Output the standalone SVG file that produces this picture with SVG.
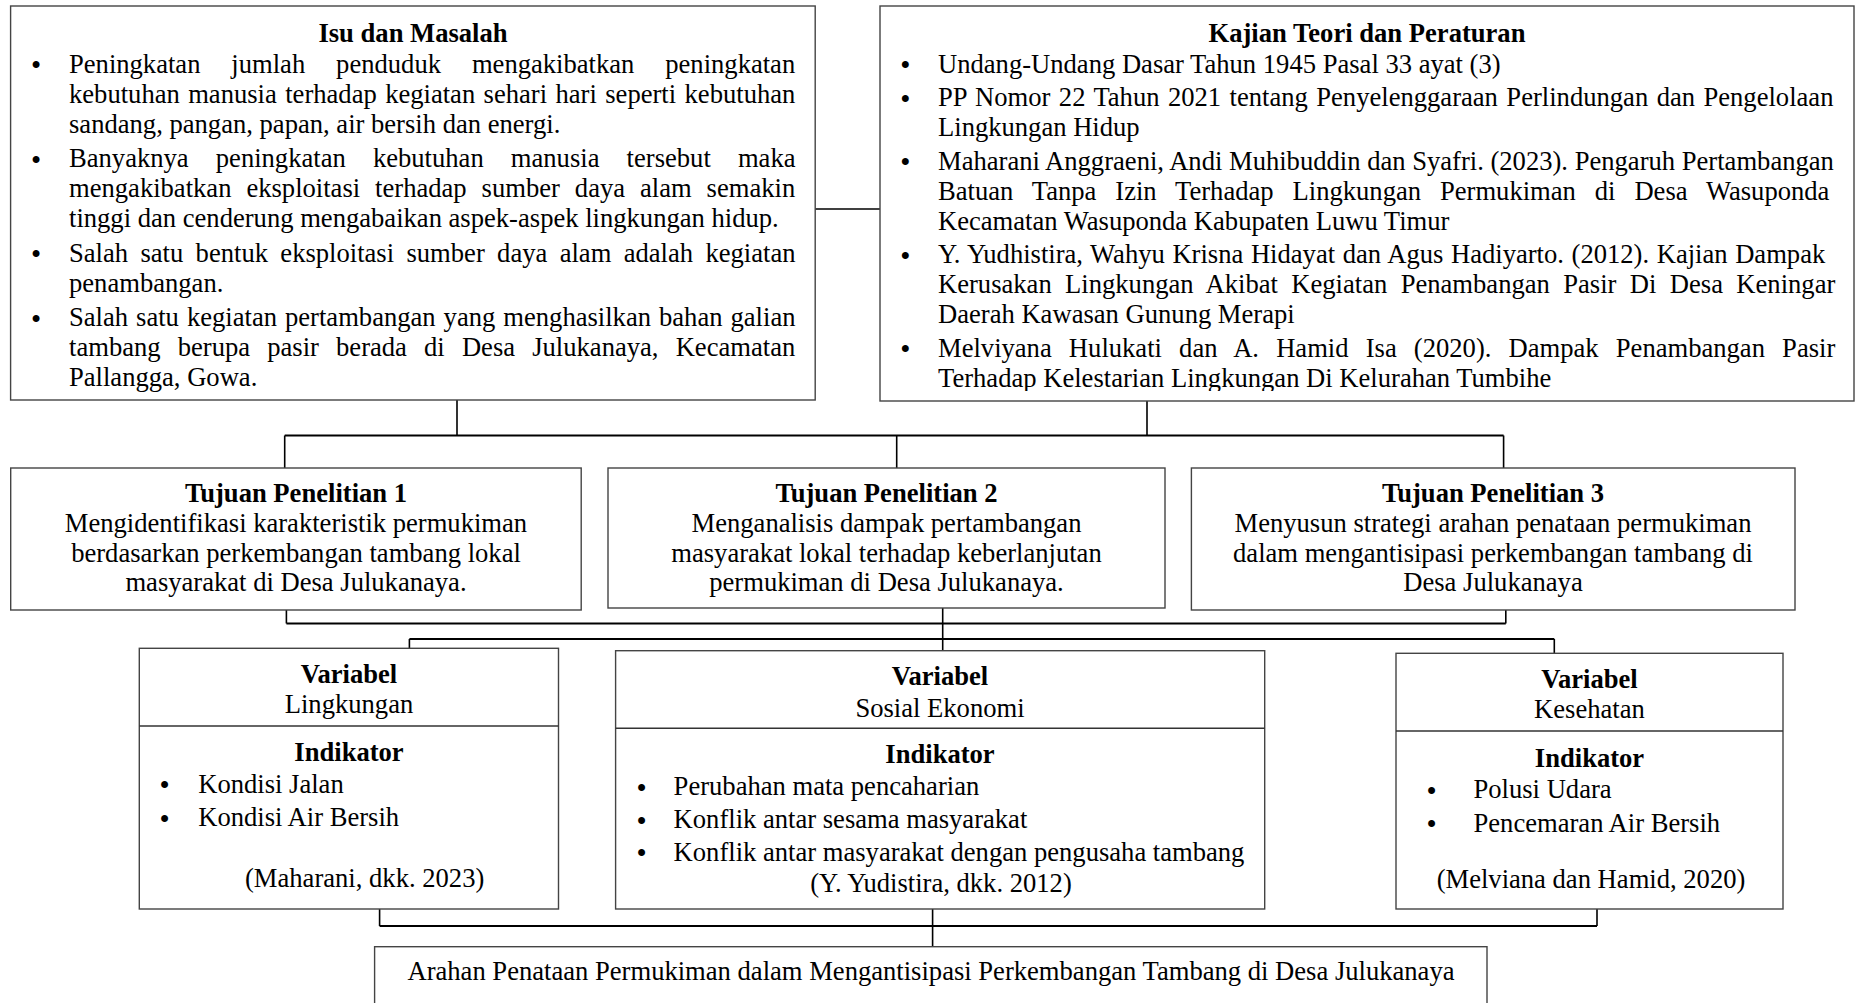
<svg xmlns="http://www.w3.org/2000/svg" width="1856" height="1003" viewBox="0 0 1856 1003">
<style>
text{font-family:"Liberation Serif","Times New Roman",serif;font-size:26.6px;fill:#000}
.b{font-weight:bold}
.m{text-anchor:middle}
.u{font-size:29px}
.box{fill:#fff;stroke:#444;stroke-width:1.4}
.dv{stroke:#333;stroke-width:1.4}
.v{fill:none;stroke:#000;stroke-width:1.6}
.h{fill:none;stroke:#000;stroke-width:2.2}
</style>
<defs>
<clipPath id="kclip"><rect x="880" y="6" width="974" height="385"/></clipPath>
</defs>
<rect width="1856" height="1003" fill="#fff"/>

<g id="connectors">
<path class="v" d="M815 209H880"/>
<path class="v" d="M457 400V435.5M1147 401V435.5"/>
<path class="h" d="M284.7 435.5H1503.6"/>
<path class="v" d="M284.7 435.5V468M896.7 435.5V468M1503.6 435.5V468"/>
<path class="v" d="M286.4 610V623.5M1505.8 610V623.5"/>
<path class="h" d="M286.4 623.5H1505.8"/>
<path class="v" d="M942.7 608V650.7"/>
<path class="v" d="M409.4 648.3V639M1554.3 639V653.3"/>
<path class="h" d="M409.4 639H1554.3"/>
<path class="v" d="M379.6 909V926M1597 909V926M932.6 909V946.7"/>
<path class="h" d="M379.6 926H1597"/>
</g>

<g id="isu">
<rect class="box" x="10.6" y="6" width="804.6" height="394"/>
<text class="b m" x="413" y="41.7">Isu dan Masalah</text>
<text class="u" x="31" y="75">•</text>
<text x="69" y="72.5" word-spacing="24.25">Peningkatan jumlah penduduk mengakibatkan peningkatan</text>
<text x="69" y="102.5" word-spacing="1.75">kebutuhan manusia terhadap kegiatan sehari hari seperti kebutuhan</text>
<text x="69" y="132.5">sandang, pangan, papan, air bersih dan energi.</text>
<text class="u" x="31" y="169.5">•</text>
<text x="69" y="167" word-spacing="20.5">Banyaknya peningkatan kebutuhan manusia tersebut maka</text>
<text x="69" y="197" word-spacing="8.3">mengakibatkan eksploitasi terhadap sumber daya alam semakin</text>
<text x="69" y="227">tinggi dan cenderung mengabaikan aspek-aspek lingkungan hidup.</text>
<text class="u" x="31" y="264">•</text>
<text x="69" y="261.5" word-spacing="5.7">Salah satu bentuk eksploitasi sumber daya alam adalah kegiatan</text>
<text x="69" y="291.5">penambangan.</text>
<text class="u" x="31" y="328.5">•</text>
<text x="69" y="326" word-spacing="1.35">Salah satu kegiatan pertambangan yang menghasilkan bahan galian</text>
<text x="69" y="356" word-spacing="10.5">tambang berupa pasir berada di Desa Julukanaya, Kecamatan</text>
<text x="69" y="386">Pallangga, Gowa.</text>
</g>

<g id="kajian">
<rect class="box" x="880" y="6" width="974" height="395"/>
<text class="b m" x="1367" y="41.7">Kajian Teori dan Peraturan</text>
<g clip-path="url(#kclip)">
<text class="u" x="900.3" y="75">•</text>
<text x="938" y="72.5">Undang-Undang Dasar Tahun 1945 Pasal 33 ayat (3)</text>
<text class="u" x="900.3" y="108.5">•</text>
<text x="938" y="106" word-spacing="1.8">PP Nomor 22 Tahun 2021 tentang Penyelenggaraan Perlindungan dan Pengelolaan</text>
<text x="938" y="136">Lingkungan Hidup</text>
<text class="u" x="900.3" y="172">•</text>
<text x="938" y="169.5">Maharani Anggraeni, Andi Muhibuddin dan Syafri. (2023). Pengaruh Pertambangan</text>
<text x="938" y="199.5" word-spacing="12.27">Batuan Tanpa Izin Terhadap Lingkungan Permukiman di Desa Wasuponda</text>
<text x="938" y="229.5">Kecamatan Wasuponda Kabupaten Luwu Timur</text>
<text class="u" x="900.3" y="265.5">•</text>
<text x="938" y="263" word-spacing="0.95">Y. Yudhistira, Wahyu Krisna Hidayat dan Agus Hadiyarto. (2012). Kajian Dampak</text>
<text x="938" y="293" word-spacing="6.74">Kerusakan Lingkungan Akibat Kegiatan Penambangan Pasir Di Desa Keningar</text>
<text x="938" y="323">Daerah Kawasan Gunung Merapi</text>
<text class="u" x="900.3" y="359">•</text>
<text x="938" y="356.5" word-spacing="10.5">Melviyana Hulukati dan A. Hamid Isa (2020). Dampak Penambangan Pasir</text>
<text x="938" y="386.5">Terhadap Kelestarian Lingkungan Di Kelurahan Tumbihe</text>
</g>
</g>

<g id="tujuan1">
<rect class="box" x="10.7" y="468" width="570.5" height="142"/>
<text class="b m" x="296" y="502">Tujuan Penelitian 1</text>
<text class="m" x="296" y="532">Mengidentifikasi karakteristik permukiman</text>
<text class="m" x="296" y="561.5">berdasarkan perkembangan tambang lokal</text>
<text class="m" x="296" y="591">masyarakat di Desa Julukanaya.</text>
</g>

<g id="tujuan2">
<rect class="box" x="608" y="468" width="557" height="140"/>
<text class="b m" x="886.5" y="502">Tujuan Penelitian 2</text>
<text class="m" x="886.5" y="532">Menganalisis dampak pertambangan</text>
<text class="m" x="886.5" y="561.5">masyarakat lokal terhadap keberlanjutan</text>
<text class="m" x="886.5" y="591">permukiman di Desa Julukanaya.</text>
</g>

<g id="tujuan3">
<rect class="box" x="1191.4" y="468" width="603.6" height="142"/>
<text class="b m" x="1493" y="502">Tujuan Penelitian 3</text>
<text class="m" x="1493" y="532">Menyusun strategi arahan penataan permukiman</text>
<text class="m" x="1493" y="561.5">dalam mengantisipasi perkembangan tambang di</text>
<text class="m" x="1493" y="591">Desa Julukanaya</text>
</g>

<g id="var-lingkungan">
<rect class="box" x="139.3" y="648.3" width="419.2" height="260.7"/>
<line class="dv" x1="139.3" y1="726" x2="558.5" y2="726"/>
<text class="b m" x="349" y="683.3">Variabel</text>
<text class="m" x="349" y="712.7">Lingkungan</text>
<text class="b m" x="349" y="760.7">Indikator</text>
<text class="u" x="159.6" y="795.2">•</text>
<text x="198.2" y="792.7">Kondisi Jalan</text>
<text class="u" x="159.6" y="828.5">•</text>
<text x="198.2" y="826">Kondisi Air Bersih</text>
<text x="245" y="886.7">(Maharani, dkk. 2023)</text>
</g>

<g id="var-sosial-ekonomi">
<rect class="box" x="615.6" y="650.7" width="649.1" height="258.3"/>
<line class="dv" x1="615.6" y1="728.3" x2="1264.7" y2="728.3"/>
<text class="b m" x="940" y="685">Variabel</text>
<text class="m" x="940" y="716.7">Sosial Ekonomi</text>
<text class="b m" x="940" y="763.3">Indikator</text>
<text class="u" x="636.4" y="797.5">•</text>
<text x="673.6" y="795">Perubahan mata pencaharian</text>
<text class="u" x="636.4" y="830.5">•</text>
<text x="673.6" y="828">Konflik antar sesama masyarakat</text>
<text class="u" x="636.4" y="863">•</text>
<text x="673.6" y="860.5">Konflik antar masyarakat dengan pengusaha tambang</text>
<text class="m" x="941" y="891.7">(Y. Yudistira, dkk. 2012)</text>
</g>

<g id="var-kesehatan">
<rect class="box" x="1396" y="653.3" width="387" height="255.7"/>
<line class="dv" x1="1396" y1="731" x2="1783" y2="731"/>
<text class="b m" x="1589.5" y="688.3">Variabel</text>
<text class="m" x="1589.5" y="718.3">Kesehatan</text>
<text class="b m" x="1589.5" y="766.7">Indikator</text>
<text class="u" x="1426.6" y="800.8">•</text>
<text x="1473.5" y="798.3">Polusi Udara</text>
<text class="u" x="1426.6" y="834.2">•</text>
<text x="1473.5" y="831.7">Pencemaran Air Bersih</text>
<text class="m" x="1591" y="888.3">(Melviana dan Hamid, 2020)</text>
</g>

<g id="arahan">
<rect class="box" x="374.6" y="946.7" width="1112.4" height="70"/>
<text class="m" x="931" y="980">Arahan Penataan Permukiman dalam Mengantisipasi Perkembangan Tambang di Desa Julukanaya</text>
</g>
</svg>
